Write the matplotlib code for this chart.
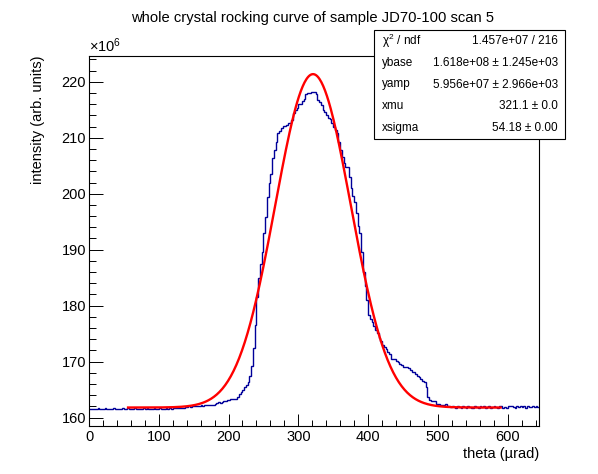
import numpy as np
import matplotlib
matplotlib.use("Agg")
import matplotlib.pyplot as plt
from matplotlib.ticker import MultipleLocator
from matplotlib.patches import Rectangle

plt.rcParams['font.family'] = ['Liberation Sans', 'DejaVu Sans']
plt.rcParams['mathtext.fontset'] = 'custom'
plt.rcParams['mathtext.rm'] = 'Liberation Sans'
plt.rcParams['mathtext.default'] = 'regular'

# histogram: 258 bins of 2.5 urad from 0 to 645, counts in units of 1e6
bin_lo = 0.0
bin_hi = 645.0
counts = [
    161.6, 161.5, 161.6, 161.5,  161.6, 161.7, 161.6, 161.5,
    161.6, 161.7, 161.6, 161.6,  161.5, 161.6, 161.7, 161.6,
    161.6, 161.5, 161.6, 161.7,  161.6, 161.6, 161.7, 161.6,
    161.5, 161.6, 161.7, 161.6,  161.6, 161.5, 161.6, 161.7,
    161.6, 161.7, 161.6, 161.5,  161.6, 161.7, 161.6, 161.6,
    161.7, 161.6, 161.5, 161.6,  161.7, 161.6, 161.7, 161.6,
    161.7, 161.8, 161.7, 161.8,  161.8, 161.7, 161.8, 161.9,
    161.9, 162.0, 161.9, 162.0,  162.0, 162.1, 162.0, 162.1,
    162.2, 162.1, 162.2, 162.2,  162.2, 162.3, 162.2, 162.3,
    162.5, 162.6, 162.7, 162.6,  162.8, 162.9, 163.0, 163.1,
    163.2, 163.3, 163.3, 163.4,  163.4, 163.6, 164.2, 164.6,
    165.0, 165.4, 165.9, 166.3,  167.5, 169.3, 172.4, 176.5,
    181.5, 185.0, 187.5, 189.5,  193.0, 195.9, 199.4, 202.0,
    203.5, 206.3, 207.8, 209.3,  210.8, 211.2, 211.8, 212.1,
    212.1, 212.2, 212.6, 212.7,  213.2, 214.4, 215.0, 215.3,
    216.0, 216.1, 216.5, 217.0,  217.8, 218.0, 218.0, 218.1,
    218.2, 218.1, 217.8, 216.8,  216.4, 215.8, 215.0, 214.6,
    214.0, 213.6, 213.3, 212.6,  211.9, 211.3, 210.8, 209.3,
    207.8, 206.5, 205.4, 204.8,  204.7, 203.0, 201.0, 199.5,
    198.6, 196.5, 194.2, 192.9,  189.5, 186.0, 183.5, 181.0,
    178.3, 177.7, 177.0, 176.4,  175.6, 175.1, 174.2, 173.6,
    173.0, 172.6, 172.2, 171.7,  171.3, 170.5, 170.5, 170.4,
    170.1, 169.9, 169.6, 169.4,  169.1, 169.0, 169.0, 168.8,
    168.5, 168.1, 168.1, 167.8,  167.4, 167.3, 166.9, 166.6,
    166.3, 165.4, 163.6, 163.2,  163.0, 163.0, 162.9, 162.5,
    162.4, 162.3, 162.3, 162.2,  162.4, 162.1, 162.0, 161.9,
    162.0, 161.9, 161.8, 162.0,  161.9, 161.8, 162.0, 161.9,
    161.8, 162.0, 161.9, 161.8,  161.8, 162.0, 161.9, 161.8,
    162.0, 161.9, 162.0, 161.8,  161.9, 162.0, 161.8, 161.9,
    162.0, 161.9, 161.8, 162.0,  162.0, 161.8, 161.9, 161.8,
    162.0, 162.1, 162.0, 161.9,  161.8, 162.0, 161.9, 162.0,
    161.9, 162.0, 161.8, 162.0,  161.9, 161.9, 162.0, 161.9,
    162.0, 161.9,
]

# gaussian fit parameters (from stats box)
ybase = 161.8
yamp = 59.56
xmu = 321.1
xsigma = 54.18
fit_lo, fit_hi = 56, 590

stat_names = ["χ$^{2}$ / ndf", "ybase", "yamp", "xmu", "xsigma"]
stat_values = ["1.457e+07 / 216", "1.618e+08 ± 1.245e+03",
               "5.956e+07 ± 2.966e+03", "321.1 ± 0.0", "54.18 ± 0.00"]

edges = np.linspace(bin_lo, bin_hi, len(counts) + 1)

fig = plt.figure(figsize=(5.98, 4.74), dpi=100)
ax = fig.add_axes([89/598, 1 - 426/474, 450/598, 370/474])

ax.stairs(counts, edges, color='#000099', linewidth=1.0, baseline=None)

xf = np.linspace(fit_lo, fit_hi, 400)
ax.plot(xf, ybase + yamp*np.exp(-0.5*((xf - xmu)/xsigma)**2), color='#ff0000', linewidth=1.7)

ax.set_xlim(0, 645)
ax.set_ylim(158.5, 224.6)
ax.xaxis.set_major_locator(MultipleLocator(100))
ax.xaxis.set_minor_locator(MultipleLocator(20))
ax.yaxis.set_major_locator(MultipleLocator(10))
ax.yaxis.set_minor_locator(MultipleLocator(2))
ax.tick_params(axis='x', which='major', direction='in', length=8.5, width=0.7, labelsize=10.5, pad=3)
ax.tick_params(axis='x', which='minor', direction='in', length=4.3, width=0.7)
ax.tick_params(axis='y', which='major', direction='in', length=10, width=0.7, labelsize=10.5, pad=2)
ax.tick_params(axis='y', which='minor', direction='in', length=5, width=0.7)
for s in ax.spines.values():
    s.set_linewidth(0.8)

ax.set_xlabel("theta (µrad)", fontsize=10.5, loc='right', labelpad=2)
ax.set_ylabel("intensity (arb. units)", fontsize=10.5, loc='top', labelpad=12)
ax.text(0, 1.002, "×10$^{6}$", transform=ax.transAxes, fontsize=10.5, ha='left', va='bottom')

fig.text(313/598, 1 - 18/474, "whole crystal rocking curve of sample JD70-100 scan 5",
         fontsize=10.6, ha='center', va='center')

# stats box
bx0, bx1, by0, by1 = 374, 565, 30, 139
fig.patches.append(Rectangle((bx0/598, 1 - by1/474), (bx1 - bx0)/598, (by1 - by0)/474,
                             transform=fig.transFigure, facecolor='white', edgecolor='black',
                             linewidth=0.8, zorder=5))
row_h = (by1 - by0) / len(stat_names)
for i, (n, v) in enumerate(zip(stat_names, stat_values)):
    yc = 1 - (by0 + row_h*(i + 0.5))/474
    fig.text(382/598, yc, n, fontsize=8.5, ha='left', va='center', zorder=6)
    fig.text(558/598, yc, v, fontsize=8.5, ha='right', va='center', zorder=6)

fig.savefig("out.png", dpi=100)
